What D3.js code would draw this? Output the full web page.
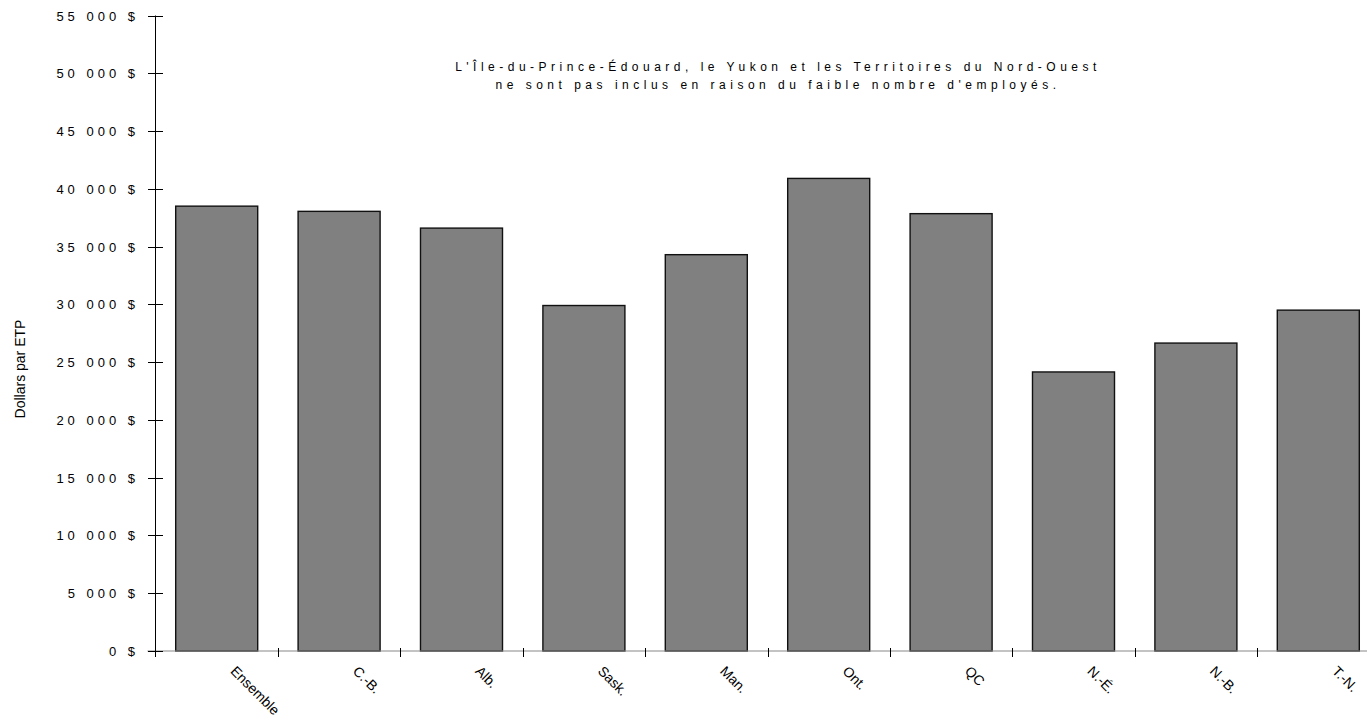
<!DOCTYPE html>
<html>
<head>
<meta charset="utf-8">
<script src="https://cdn.jsdelivr.net/npm/d3@7"></script>
<style>
  body { margin: 0; background: #fff; }
  text { font-family: "Liberation Sans", Arial, sans-serif; fill: #000; }
</style>
</head>
<body>
<div id="chart"></div>
<script>
// data
var provinces = ["Ensemble", "C.-B.", "Alb.", "Sask.", "Man.", "Ont.", "QC", "N.-É.", "N.-B.", "T.-N."];
var dollarsPerFte = [38500, 38050, 36600, 29900, 34300, 40900, 37850, 24150, 26650, 29500];
var yTicks = [0, 5000, 10000, 15000, 20000, 25000, 30000, 35000, 40000, 45000, 50000, 55000];
var noteLines = [
    "L'Île-du-Prince-Édouard, le Yukon et les Territoires du Nord-Ouest",
    "ne sont pas inclus en raison du faible nombre d'employés."
];

var width = 1367, height = 722;
var axisX = 155.5, axisY = 651;

var svg = d3.select("#chart")
    .append("svg")
    .attr("width", width)
    .attr("height", height);

var y = d3.scaleLinear()
    .domain([0, 55000])
    .range([axisY, 15.5]);

var x = d3.scaleBand()
    .domain(provinces)
    .range([axisX, axisX + 10 * 122.4])
    .padding(0);

var xBar = d3.scaleBand()
    .domain(provinces)
    .range(x.range())
    .paddingInner(0.33)
    .paddingOuter(0.165);

var fr = d3.formatLocale({ decimal: ",", thousands: " ", grouping: [3], currency: ["", " $"] });
var fmt = fr.format("$,.0f");

// bars
svg.append("g")
    .selectAll("rect")
    .data(provinces)
    .join("rect")
    .attr("x", function (d) { return xBar(d); })
    .attr("y", function (d, i) { return y(dollarsPerFte[i]); })
    .attr("width", xBar.bandwidth())
    .attr("height", function (d, i) { return axisY - y(dollarsPerFte[i]); })
    .attr("fill", "#808080")
    .attr("stroke", "#111")
    .attr("stroke-width", 1.4);

// x axis line
svg.append("line")
    .attr("x1", axisX - 8).attr("x2", width)
    .attr("y1", axisY).attr("y2", axisY)
    .attr("stroke", "#888")
    .attr("stroke-width", 1.2);

// category ticks (between bands)
svg.append("g")
    .selectAll("line")
    .data(provinces.slice(1))
    .join("line")
    .attr("x1", function (d) { return Math.round(x(d)) + 0.5; })
    .attr("x2", function (d) { return Math.round(x(d)) + 0.5; })
    .attr("y1", axisY - 3)
    .attr("y2", axisY + 6)
    .attr("stroke", "#000");

// category labels
svg.append("g")
    .selectAll("text")
    .data(provinces)
    .join("text")
    .attr("transform", function (d) {
        return "translate(" + (x(d) + x.bandwidth() / 2 + 13) + "," + (axisY + 21) + ") rotate(45)";
    })
    .style("font-size", "14px")
    .text(function (d) { return d; });

// y axis
svg.append("line")
    .attr("x1", axisX).attr("x2", axisX)
    .attr("y1", y(55000)).attr("y2", axisY + 6)
    .attr("stroke", "#000");

var yt = svg.append("g")
    .selectAll("g")
    .data(yTicks)
    .join("g")
    .attr("transform", function (d) { return "translate(0," + (Math.round(y(d)) + 0.5) + ")"; });

yt.append("line")
    .attr("x1", axisX - 7.5).attr("x2", axisX + 7.5)
    .attr("stroke", "#000");

yt.append("text")
    .attr("x", 139)
    .attr("dy", "0.35em")
    .attr("text-anchor", "end")
    .style("font-size", "13px")
    .style("letter-spacing", "4px")
    .text(function (d) { return fmt(d); });

// y axis title
svg.append("text")
    .attr("transform", "translate(25,369) rotate(-90)")
    .attr("text-anchor", "middle")
    .style("font-size", "14px")
    .text("Dollars par ETP");

// note
svg.append("g")
    .selectAll("text")
    .data(noteLines)
    .join("text")
    .attr("x", 778)
    .attr("y", function (d, i) { return 71 + i * 18; })
    .attr("text-anchor", "middle")
    .style("font-size", "12px")
    .style("letter-spacing", "4.5px")
    .text(function (d) { return d; });
</script>
</body>
</html>
